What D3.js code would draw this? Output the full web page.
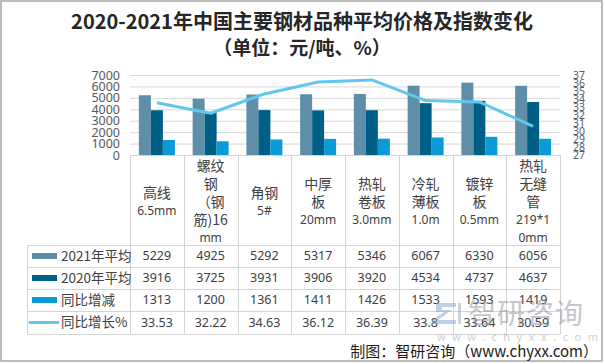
<!DOCTYPE html>
<html><head><meta charset="utf-8">
<script src="https://cdn.jsdelivr.net/npm/d3@7"></script>
<style>
html,body{margin:0;padding:0;background:#fff;}
svg{display:block;font-family:"Noto Sans CJK SC","Noto Sans",sans-serif;}
.lat{font-family:"Noto Sans","Noto Sans CJK SC",sans-serif;}
</style></head>
<body>
<svg id="c" width="605" height="364"></svg>
<script>
const categories = ["高线6.5mm","螺纹钢（钢筋)16mm","角钢5#","中厚板20mm","热轧卷板3.0mm","冷轧薄板1.0m","镀锌板0.5mm","热轧无缝管219*10mm"];
const categoryLines = [
  ["高线","6.5mm"],
  ["螺纹","钢","（钢","筋)16","mm"],
  ["角钢","5#"],
  ["中厚","板","20mm"],
  ["热轧","卷板","3.0mm"],
  ["冷轧","薄板","1.0m"],
  ["镀锌","板","0.5mm"],
  ["热轧","无缝","管","219*1","0mm"]
];
const avg2021 = [5229,4925,5292,5317,5346,6067,6330,6056];
const avg2020 = [3916,3725,3931,3906,3920,4534,4737,4637];
const diffYoY = [1313,1200,1361,1411,1426,1533,1593,1419];
const pctYoY = [33.53,32.22,34.63,36.12,36.39,33.8,33.64,30.59];
const seriesNames = ["2021年平均","2020年平均","同比增减","同比增长%"];
const leftTicks = [0,1000,2000,3000,4000,5000,6000,7000];
const rightTicks = [27,28,29,30,31,32,33,34,35,36,37];
const colors = ["#5f8fa8","#005f86","#0a9ad6","#62c6ee"];

const svg = d3.select("#c");
// outer border
svg.append("rect").attr("x",1).attr("y",1).attr("width",601).attr("height",360)
  .attr("fill","none").attr("stroke","#a6a6a6").attr("stroke-width",1.5);

// title
svg.append("text").attr("x",302).attr("y",29).attr("text-anchor","middle")
  .attr("font-size",20).attr("font-weight","bold").attr("fill","#262626")
  .text("2020-2021年中国主要钢材品种平均价格及指数变化");
svg.append("text").attr("x",302).attr("y",55).attr("text-anchor","middle")
  .attr("font-size",19).attr("font-weight","bold").attr("fill","#262626")
  .text("（单位：元/吨、%）");

const L = 130, R = 560, Y0 = 155, Y1 = 75;
const x = d3.scaleBand().domain(d3.range(categories.length)).range([L,R]);
const xi = d3.scaleBand().domain([0,1,2]).range([0,x.bandwidth()]).paddingOuter(0.74);
const yL = d3.scaleLinear().domain([0,7000]).range([Y0,Y1]);
const yR = d3.scaleLinear().domain([27,37]).range([Y0,Y1]);

// gridlines
const grid = svg.append("g").attr("transform",`translate(${L},0)`)
  .call(d3.axisLeft(yL).tickValues(leftTicks.slice(1)).tickSize(-(R-L)).tickFormat(""));
grid.select(".domain").remove();
grid.selectAll("line").attr("stroke","#d9d9d9");

// left axis
const ax = svg.append("g").attr("transform",`translate(${L-8},0)`)
  .call(d3.axisLeft(yL).tickValues(leftTicks).tickSize(0).tickPadding(2).tickFormat(d3.format("d")));
ax.select(".domain").remove();
ax.selectAll("text").attr("font-size",12.5).attr("fill","#595959")
  .attr("font-family","'Noto Sans',sans-serif");

// right axis
const ar = svg.append("g").attr("transform",`translate(${R+11},0)`)
  .call(d3.axisRight(yR).tickValues(rightTicks).tickSize(0).tickPadding(2).tickFormat(d3.format("d")));
ar.select(".domain").remove();
ar.selectAll("text").attr("font-size",10.5).attr("fill","#595959")
  .attr("font-family","'Noto Sans',sans-serif");

// bars
const barSeries = [avg2021, avg2020, diffYoY];
barSeries.forEach((vals,si)=>{
  svg.append("g").selectAll("rect").data(vals).join("rect")
    .attr("x",(d,i)=>x(i)+xi(si))
    .attr("width",xi.bandwidth())
    .attr("y",d=>yL(d))
    .attr("height",d=>Y0-yL(d))
    .attr("fill",colors[si]);
});

// line
const line = d3.line().x((d,i)=>x(i)+x.bandwidth()/2).y(d=>yR(d));
svg.append("path").datum(pctYoY).attr("d",line).attr("fill","none")
  .attr("stroke",colors[3]).attr("stroke-width",3).attr("stroke-linejoin","round");

// table
const rowTops = [245,267,289,311,334];
const tLeft = 27;
const tg = svg.append("g").attr("stroke","#d4d4d4").attr("stroke-width",1);
tg.append("line").attr("x1",L).attr("x2",R).attr("y1",Y0+0.5).attr("y2",Y0+0.5);
rowTops.forEach(y=>tg.append("line").attr("x1",tLeft).attr("x2",R).attr("y1",y+0.5).attr("y2",y+0.5));
d3.range(categories.length+1).forEach(i=>{
  const xx = i<categories.length ? x(i) : R;
  tg.append("line").attr("x1",Math.round(xx)+0.5).attr("x2",Math.round(xx)+0.5).attr("y1",Y0).attr("y2",rowTops[4]);
});
tg.append("line").attr("x1",tLeft+0.5).attr("x2",tLeft+0.5).attr("y1",rowTops[0]).attr("y2",rowTops[4]);

// header labels
categoryLines.forEach((lines,i)=>{
  const cx = x(i)+x.bandwidth()/2;
  const n = lines.length, lh = 18, mid = 202;
  lines.forEach((t,j)=>{
    const latin = /^[\x00-\x7F]+$/.test(t);
    svg.append("text").attr("x",cx).attr("y",mid+(j-(n-1)/2)*lh)
      .attr("dy","0.35em").attr("text-anchor","middle")
      .attr("class", latin ? "lat" : null)
      .attr("font-size", latin ? 12 : 14)
      .attr("fill","#404040").text(t);
  });
});

// rows
const rowData = [avg2021, avg2020, diffYoY, pctYoY];
rowData.forEach((vals,r)=>{
  const cy = (rowTops[r]+rowTops[r+1])/2;
  if (r<3) {
    svg.append("rect").attr("x",32).attr("y",cy-3).attr("width",25).attr("height",6).attr("fill",colors[r]);
  } else {
    svg.append("line").attr("x1",30).attr("x2",58).attr("y1",cy).attr("y2",cy)
      .attr("stroke",colors[3]).attr("stroke-width",3).attr("stroke-linecap","round");
  }
  svg.append("text").attr("x",61).attr("y",cy).attr("dy","0.35em")
    .attr("font-size",13.5).attr("fill","#404040").text(seriesNames[r]);
  vals.forEach((v,i)=>{
    svg.append("text").attr("class","lat").attr("x",x(i)+x.bandwidth()/2).attr("y",cy).attr("dy","0.35em")
      .attr("text-anchor","middle").attr("font-size",12.5).attr("fill","#404040").text(v);
  });
});

// watermark
const wm = svg.append("g").attr("opacity",0.5);
wm.append("path").attr("d","M436 303 h20 v4 h-14 v3 h10 l-14 10 h18 v4 h-24 v-4 l12 -8 h-8 z").attr("fill","#7fa7c9");
wm.append("path").attr("d","M458 303 h3 v21 h-3 z").attr("fill","#9aa6b2");
wm.append("text").attr("x",468).attr("y",324).attr("font-size",28).attr("fill","#8a9098")
  .attr("letter-spacing",1).text("智研咨询");
wm.append("text").attr("class","lat").attr("x",437).attr("y",341).attr("font-size",11).attr("fill","#a0a4a8")
  .attr("letter-spacing",6.5).text("www.chyxx.com");

// footer
svg.append("text").attr("x",598).attr("y",357).attr("text-anchor","end")
  .attr("font-size",15).attr("fill","#1a1a1a").text("制图：智研咨询（www.chyxx.com）");
</script>
</body></html>
